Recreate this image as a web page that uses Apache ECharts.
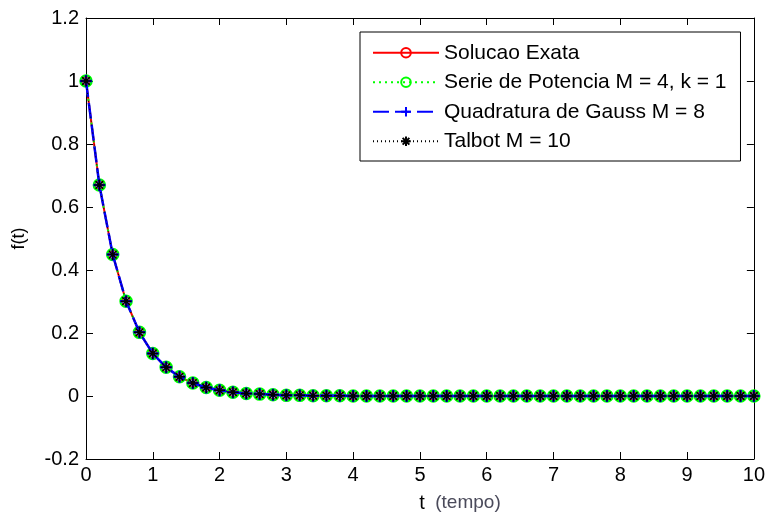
<!DOCTYPE html>
<html>
<head>
<meta charset="utf-8">
<script src="https://cdn.jsdelivr.net/npm/echarts@6/dist/echarts.min.js"></script>
<style>
  html, body { margin: 0; padding: 0; background: #fff; }
  #chart { width: 768px; height: 518px; }
</style>
</head>
<body>
<div id="chart"></div>
<script>
// Sample times t (tempo)
const tempo = [0, 0.2, 0.4, 0.6, 0.8, 1, 1.2, 1.4, 1.6, 1.8, 2, 2.2, 2.4, 2.6, 2.8, 3,
  3.2, 3.4, 3.6, 3.8, 4, 4.2, 4.4, 4.6, 4.8, 5, 5.2, 5.4, 5.6, 5.8, 6, 6.2, 6.4, 6.6,
  6.8, 7, 7.2, 7.4, 7.6, 7.8, 8, 8.2, 8.4, 8.6, 8.8, 9, 9.2, 9.4, 9.6, 9.8, 10];

// f(t) for each inversion method
const solucaoExata = [1, 0.670, 0.449, 0.301, 0.202, 0.135, 0.091, 0.061, 0.041, 0.027,
  0.018, 0.012, 0.008, 0.006, 0.004, 0.002, 0.002, 0.001, 0.001, 0.001, 0, 0, 0, 0, 0,
  0, 0, 0, 0, 0, 0, 0, 0, 0, 0, 0, 0, 0, 0, 0, 0, 0, 0, 0, 0, 0, 0, 0, 0, 0, 0];
const seriePotencia = [1, 0.670, 0.449, 0.301, 0.202, 0.135, 0.091, 0.061, 0.041, 0.027,
  0.018, 0.012, 0.008, 0.006, 0.004, 0.002, 0.002, 0.001, 0.001, 0.001, 0, 0, 0, 0, 0,
  0, 0, 0, 0, 0, 0, 0, 0, 0, 0, 0, 0, 0, 0, 0, 0, 0, 0, 0, 0, 0, 0, 0, 0, 0, 0];
const quadraturaGauss = [1, 0.670, 0.449, 0.301, 0.202, 0.135, 0.091, 0.061, 0.041, 0.027,
  0.018, 0.012, 0.008, 0.006, 0.004, 0.002, 0.002, 0.001, 0.001, 0.001, 0, 0, 0, 0, 0,
  0, 0, 0, 0, 0, 0, 0, 0, 0, 0, 0, 0, 0, 0, 0, 0, 0, 0, 0, 0, 0, 0, 0, 0, 0, 0];
const talbot = [1, 0.670, 0.449, 0.301, 0.202, 0.135, 0.091, 0.061, 0.041, 0.027,
  0.018, 0.012, 0.008, 0.006, 0.004, 0.002, 0.002, 0.001, 0.001, 0.001, 0, 0, 0, 0, 0,
  0, 0, 0, 0, 0, 0, 0, 0, 0, 0, 0, 0, 0, 0, 0, 0, 0, 0, 0, 0, 0, 0, 0, 0, 0, 0];

const seriesNames = ['Solucao Exata', 'Serie de Potencia M = 4, k = 1',
  'Quadratura de Gauss M = 8', 'Talbot M = 10'];

const FONT = '"Liberation Sans", Arial, sans-serif';

const pairs = (ys) => tempo.map((t, i) => [t, ys[i]]);

// marker outlines (stroked only)
const plusPath = 'path://M0,5L10,5M5,0L5,10';
const starPath = 'path://M0,5L10,5M5,0L5,10M1.5,1.5L8.5,8.5M8.5,1.5L1.5,8.5';

const chart = echarts.init(document.getElementById('chart'), null, { renderer: 'canvas' });

const axisCommon = {
  axisLine: { show: true, onZero: false, lineStyle: { color: '#000', width: 1 } },
  axisTick: { show: true, inside: true, length: 7, lineStyle: { color: '#000' } },
  splitLine: { show: false }
};

chart.setOption({
  animation: false,
  backgroundColor: '#fff',
  grid: { left: 86, right: 9, top: 18, bottom: 56 },
  legend: {
    orient: 'vertical',
    left: 360,
    top: 32,
    backgroundColor: '#fff',
    borderColor: '#000',
    borderWidth: 1,
    borderRadius: 0,
    padding: [10, 14, 9, 12],
    itemWidth: 66,
    itemHeight: 12,
    itemGap: 8,
    textStyle: { fontFamily: FONT, fontSize: 21, color: '#000', lineHeight: 21.5 },
    data: seriesNames
  },
  xAxis: [
    Object.assign({}, axisCommon, {
      type: 'value', min: 0, max: 10, interval: 1, position: 'bottom',
      axisLabel: { color: '#000', fontFamily: FONT, fontSize: 20, margin: 6 },
      name: '{t|t}{g|  (tempo)}',
      nameLocation: 'middle',
      nameGap: 34,
      nameTextStyle: {
        padding: [0, 0, 0, 80],
        rich: {
          t: { fontFamily: FONT, fontSize: 20, color: '#000' },
          g: { fontFamily: FONT, fontSize: 19, color: '#4a4a5a' }
        }
      }
    }),
    Object.assign({}, axisCommon, {
      type: 'value', min: 0, max: 10, interval: 1, position: 'top',
      axisLabel: { show: false }
    })
  ],
  yAxis: [
    Object.assign({}, axisCommon, {
      type: 'value', min: -0.2, max: 1.2, interval: 0.2, position: 'left',
      axisLabel: {
        color: '#000', fontFamily: FONT, fontSize: 20, margin: 7,
        formatter: (v) => String(Math.round(v * 10) / 10)
      },
      name: 'f(t)',
      nameLocation: 'middle',
      nameGap: 58,
      nameRotate: 90,
      nameTextStyle: { fontFamily: FONT, fontSize: 18, color: '#000' }
    }),
    Object.assign({}, axisCommon, {
      type: 'value', min: -0.2, max: 1.2, interval: 0.2, position: 'right',
      axisLabel: { show: false }
    })
  ],
  series: [
    {
      name: seriesNames[0], type: 'line', data: pairs(solucaoExata),
      symbol: 'circle', symbolSize: 9, showAllSymbol: true,
      lineStyle: { color: '#ff0000', width: 2 },
      itemStyle: { color: 'rgba(0,0,0,0)', borderColor: '#ff0000', borderWidth: 2 },
      emphasis: { disabled: true }, z: 2
    },
    {
      name: seriesNames[1], type: 'line', data: pairs(seriePotencia),
      symbol: 'circle', symbolSize: 11, showAllSymbol: true,
      lineStyle: { color: '#00ff00', width: 2, type: [2, 4] },
      itemStyle: { color: 'rgba(0,0,0,0)', borderColor: '#00ff00', borderWidth: 2.5 },
      emphasis: { disabled: true }, z: 3
    },
    {
      name: seriesNames[2], type: 'line', data: pairs(quadraturaGauss),
      symbol: plusPath, symbolSize: 12, showAllSymbol: true,
      lineStyle: { color: '#0000ff', width: 2.5, type: [16, 6] },
      itemStyle: { color: 'rgba(0,0,0,0)', borderColor: '#0000ff', borderWidth: 2.5 },
      emphasis: { disabled: true }, z: 4
    },
    {
      name: seriesNames[3], type: 'line', data: pairs(talbot),
      symbol: starPath, symbolSize: 11, showAllSymbol: true,
      lineStyle: { color: '#000000', width: 1, type: [1, 3] },
      itemStyle: { color: 'rgba(0,0,0,0)', borderColor: '#000000', borderWidth: 1.5 },
      emphasis: { disabled: true }, z: 5
    }
  ]
});
</script>
</body>
</html>
